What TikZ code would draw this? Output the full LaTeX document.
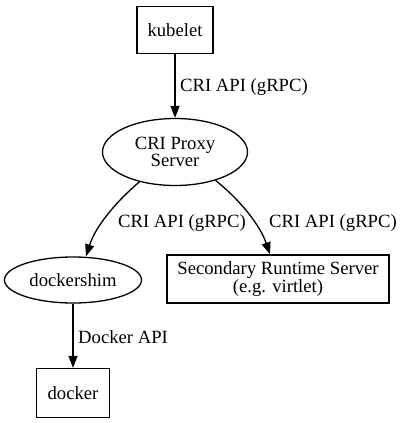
\documentclass[tikz,border=0pt]{standalone}
\usepackage{fontspec}
\setmainfont{Liberation Serif}
\usetikzlibrary{arrows.meta,shapes.geometric}
\begin{document}
\begin{tikzpicture}[x=1pt,y=-1pt,
  every node/.style={font=\fontsize{18.67}{17.5}\selectfont},
  boxnode/.style={draw,line width=1.3pt,rectangle,inner sep=0pt,align=center},
  ovalnode/.style={draw,line width=1.3pt,ellipse,inner sep=0pt,align=center},
  edgelabel/.style={anchor=west,inner sep=0pt},
  conn/.style={line width=1.3pt,-{Triangle[length=12pt,width=9pt]}}]
\useasboundingbox (0,0) rectangle (402,423);
\node[boxnode,minimum width=76pt,minimum height=47pt] (kubelet) at (175,30) {kubelet};
\node[ovalnode,minimum width=145pt,minimum height=67pt] (proxy) at (175,152) {CRI Proxy\\Server};
\node[ovalnode,minimum width=137pt,minimum height=46pt] (shim) at (73,280) {dockershim};
\node[boxnode,minimum width=222pt,minimum height=48pt] (sec) at (278,279) {Secondary Runtime Server\\(e.g. virtlet)};
\node[boxnode,minimum width=73pt,minimum height=49pt] (docker) at (73,393) {docker};
\draw[conn] (kubelet) -- (proxy);
\draw[conn] (proxy.-140) .. controls (118,200) and (96,225) .. ([xshift=13pt]shim.north);
\draw[conn] (proxy.-35) .. controls (240,200) and (260,225) .. ([xshift=-8pt]sec.north);
\draw[conn] (shim) -- (docker);
\node[edgelabel] (l1) at (180,87) {CRI API (gRPC)};
\node[edgelabel] (l2) at (118,223) {CRI API (gRPC)};
\node[edgelabel] (l3) at (269,223) {CRI API (gRPC)};
\node[edgelabel] (l4) at (78,337) {Docker API};
\end{tikzpicture}
\end{document}
